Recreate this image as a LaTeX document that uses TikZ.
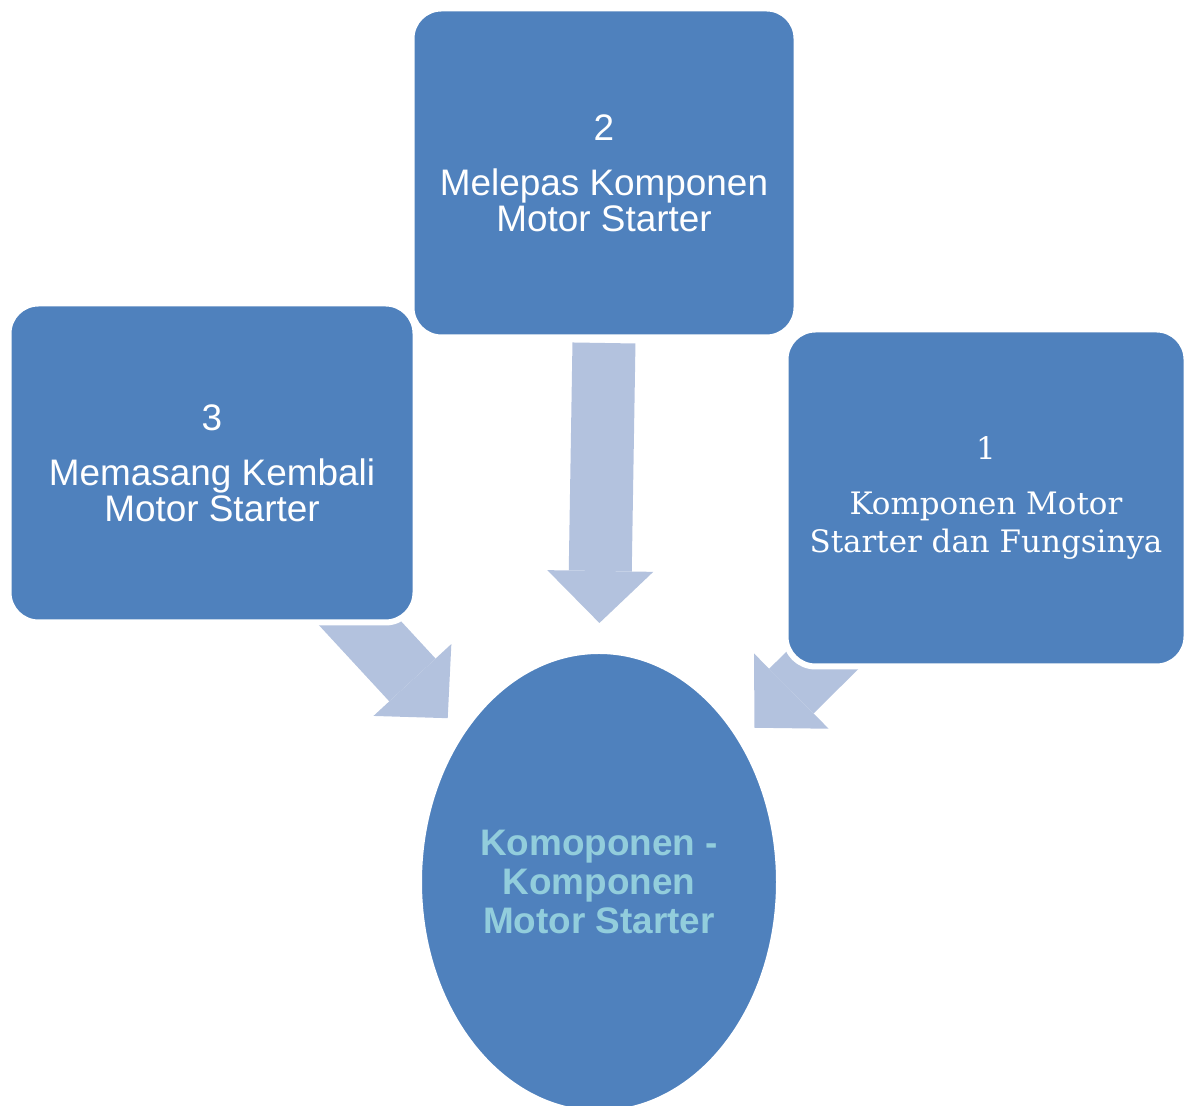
\documentclass[tikz,border=0pt]{standalone}
\usepackage{fontspec}
\setmainfont{Liberation Sans}
\newfontfamily\stepserif{DejaVu Serif}
\usetikzlibrary{arrows.meta,shapes.geometric,backgrounds}
\definecolor{boxblue}{HTML}{4F81BD}
\definecolor{arrowblue}{HTML}{B3C2DE}
\definecolor{hubtext}{HTML}{92CDDC}

\begin{document}
\begin{tikzpicture}[
        % Kotak langkah (biru, sudut membulat, garis tepi putih)
            stepbox/.style={rectangle, rounded corners=0.6cm, fill=boxblue, draw=white, line width=0.12cm, text=white, align=center, inner sep=4pt, font=\fontsize{21}{20.5}\selectfont},
        % Elips pusat
            hub/.style={ellipse, fill=boxblue, draw=white, line width=0.12cm, text=hubtext, align=center, inner sep=0pt, font=\fontsize{21}{22}\selectfont\bfseries},
            flowarrow/.style={draw=arrowblue, line width=1.26cm, -{Triangle[length=1.04cm, width=2.12cm, line width=0pt]}}
        ]
            \useasboundingbox (0,0) rectangle (23.7,22.12);

            % --- ELIPS PUSAT ---
            \node[hub, minimum width=7.2cm, minimum height=9.24cm] (hub) at (11.98,4.48) {Komoponen -\\Komponen\\Motor Starter};

            % --- KOTAK LANGKAH ---
            \node[stepbox, minimum width=8.14cm, minimum height=6.38cm] (memasang) at (4.24,12.86) {3\\[10.8pt]Memasang Kembali\\Motor Starter};
            \node[stepbox, minimum width=8.02cm, minimum height=6.74cm, font=\stepserif\fontsize{17.6}{21.6}\selectfont] (fungsi) at (19.72,12.16) {1\\[9.7pt]Komponen Motor\\Starter dan Fungsinya};
            \node[stepbox, minimum width=7.7cm, minimum height=6.58cm] (melepas) at (12.08,18.66) {2\\[10.8pt]Melepas Komponen\\Motor Starter};

            % --- PANAH (di belakang kotak) ---
            \begin{scope}[on background layer]
                \draw[flowarrow, shorten <=0.05cm, shorten >=0.5cm] (melepas.south) -- (hub.north);
                \draw[flowarrow, shorten >=4.46cm] (memasang.center) -- (hub.center);
                \draw[flowarrow, shorten >=4.38cm] (fungsi.center) -- (hub.center);
            \end{scope}
        \end{tikzpicture}
\end{document}
